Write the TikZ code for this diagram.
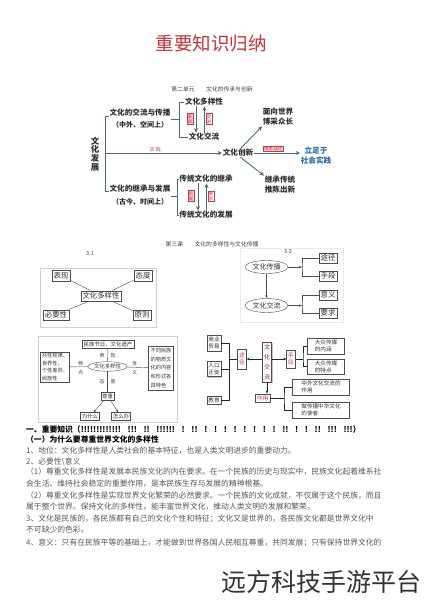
\documentclass[tikz,border=0pt]{standalone}
\usepackage{fontspec}
\usepackage{tikz}
\usetikzlibrary{positioning,arrows.meta,shapes.geometric,shadows}
\setmainfont{Noto Sans CJK SC}
\newcommand{\sizeAt}[2]{\fontsize{#1}{#2}\selectfont}
\definecolor{titleRed}{RGB}{200,48,58}
\definecolor{tagRed}{RGB}{196,58,70}
\definecolor{tagPink}{RGB}{247,212,216}
\definecolor{mapBlue}{RGB}{74,104,140}
\definecolor{rootBlue}{RGB}{40,104,172}
\definecolor{frameGray}{RGB}{208,208,208}
\definecolor{inkGray}{RGB}{45,45,45}
\definecolor{bodyGray}{RGB}{88,88,88}
\tikzstyle{sheet} = [x = 1pt, y = -1pt]
\tikzstyle{headText} = [font=\sizeAt{5.8}{7}, text=black!75, inner sep=0]
\tikzstyle{mapText} = [font=\bfseries\sizeAt{7.6}{10}, text=inkGray, inner sep=.5pt, align=center]
\tikzstyle{mapLine} = [color=mapBlue, line width=.9pt]
\tikzstyle{mapArrow} = [mapLine, -{Stealth[length=4.5pt, width=4pt]}]
\tikzstyle{braceLine} = [color=mapBlue, line width=.7pt]
\tikzstyle{tagFilled} = [draw=tagRed, fill=tagPink, text=tagRed, font=\sizeAt{4.6}{5.2}, inner sep=.7pt, align=center, line width=.3pt]
\tikzstyle{tagOpen} = [tagFilled, fill=white]
\tikzstyle{thinBox} = [draw=black!70, line width=.4pt, fill=white, font=\sizeAt{7.4}{8}, inner sep=1.8pt, text=black!80]
\tikzstyle{shadeBox} = [thinBox, drop shadow={shadow xshift=.9pt, shadow yshift=-.9pt, fill=black!45}]
\tikzstyle{smallBox} = [shadeBox, font=\sizeAt{5.6}{7}, inner sep=1.6pt, align=center]
\tikzstyle{ovalBox} = [ellipse, draw=black!70, line width=.4pt, fill=white, inner sep=0, text=black!80]
\tikzstyle{thinLine} = [draw=black!70, line width=.4pt]
\tikzstyle{thinArrow} = [thinLine, -{Stealth[length=3pt, width=2.4pt]}]
\tikzstyle{heavyLine} = [draw=black!85, line width=1pt]
\tikzstyle{heavyArrow} = [heavyLine, -{Stealth[length=3.2pt, width=2.8pt]}]
\tikzstyle{faintFrame} = [draw=frameGray, line width=.5pt]
\tikzstyle{tinyText} = [font=\sizeAt{5}{8.5}, text=black!75, inner sep=0, align=center]
\tikzstyle{bodyText} = [anchor=west, font=\sizeAt{7.8}{9}, text=bodyGray, inner sep=0]
\newcommand{\bodyLine}[3]{\node [bodyText] (#1) at (26,#2) {#3};}
\newcommand{\relationPair}[6]{
  \node [tagFilled] (#1) at (#2) {#3};
  \node [tagOpen] (#4) at (#5) {#6};
}

\begin{document}
\begin{tikzpicture}[sheet]
  \fill [white] (0,0) rectangle (424,600);
  \useasboundingbox (0,0) rectangle (424,600);

  \node [font=\sizeAt{18.5}{20}, text=titleRed] (title) at (211,43) {重要知识归纳};

  \node [headText] (unitHead) at (212,89) {第二单元　　文化的传承与创新};
  \node [mapText, font=\bfseries\sizeAt{8.4}{8.8}] (develop) at (95,154) {文\\化\\发\\展};
  \node [mapText] (exchange) at (140,113) {文化的交流与传播};
  \node [mapText, font=\bfseries\sizeAt{7}{8}] (exchangeSub) at (140,124.5) {（中外、空间上）};
  \node [mapText] (inherit) at (140,189) {文化的继承与发展};
  \node [mapText, font=\bfseries\sizeAt{7}{8}] (inheritSub) at (140,201.5) {（古今、时间上）};
  \coordinate (spineTop) at (105,116);
  \coordinate (spineMid) at (105,153);
  \coordinate (spineBot) at (105,191);
  \draw [mapLine] (spineTop -| exchange.west) -- (spineTop) -- (spineBot) -- (spineBot -| inherit.west);
  \node [mapText] (innovation) at (238,153) {文化创新};
  \draw [mapArrow] (spineMid) -- node [pos=.43, above=.5pt, font=\sizeAt{5}{6}, text=tagRed, inner sep=.5pt] (practiceTag) {实\,践} (innovation.west);

  \node [mapText] (diversity) at (204,102) {文化多样性};
  \node [mapText] (exchangeFlow) at (204,137) {文化交流};
  \coordinate (braceTop) at (179,119);
  \draw [braceLine] (diversity.west) -- (diversity.west -| braceTop) -- (exchangeFlow.west -| braceTop) -- (exchangeFlow.west);
  \draw [braceLine] (exchange.east |- braceTop) -- (braceTop);
  \draw [mapArrow, line width=.7pt] ([xshift=-8pt]diversity.south) -- ([xshift=-8pt]exchangeFlow.north);
  \draw [mapArrow, line width=.7pt] ([xshift=.5pt]exchangeFlow.north) -- ([xshift=.5pt]diversity.south);
  \relationPair{baseTag}{190,119}{基\\础}{pushTag}{209,119}{促\\进}

  \node [mapText] (tradInherit) at (206,179) {传统文化的继承};
  \node [mapText] (tradDevelop) at (206,215) {传统文化的发展};
  \coordinate (braceBot) at (177,196);
  \draw [braceLine] (tradInherit.west) -- (tradInherit.west -| braceBot) -- (tradDevelop.west -| braceBot) -- (tradDevelop.west);
  \draw [braceLine] (inherit.east |- braceBot) -- (braceBot);
  \draw [mapArrow, line width=.7pt] ([xshift=-8pt]tradInherit.south) -- ([xshift=-8pt]tradDevelop.north);
  \draw [mapArrow, line width=.7pt] ([xshift=.5pt]tradDevelop.north) -- ([xshift=.5pt]tradInherit.south);
  \relationPair{premiseTag}{191,196}{前\\提}{needTag}{211,196}{要\\求}

  \node [mapText] (world) at (278,117) {面向世界\\博采众长};
  \node [mapText, text=rootBlue] (practice) at (316,155.5) {立足于\\社会实践};
  \node [mapText] (renew) at (280,185) {继承传统\\推陈出新};
  \draw [mapArrow] (innovation.60) -- (world.south west);
  \draw [mapArrow] (innovation.east) -- node [pos=.42, above=1.5pt, tagFilled] (rootTag) {根本途径} (innovation.east -| practice.west);
  \draw [mapArrow] (innovation.-60) -- (renew.north west);

  \node [headText] (lessonHead) at (212,244) {第三课　　文化的多样性与文化传播};
  \node [tinyText, font=\sizeAt{5.5}{6}] (labelOne) at (90,254) {3.1};
  \node [tinyText, font=\sizeAt{5.5}{6}] (labelTwo) at (288,252) {3.2};
  \draw [faintFrame] (40,268) rectangle (156,327);
  \node [thinBox] (divCore) at (101,296) {文化多样性};
  \node [thinBox] (showBox) at (61,275.5) {表现};
  \node [thinBox] (attBox) at (143,275.5) {态度};
  \node [thinBox] (needBox) at (56,315) {必要性};
  \node [thinBox] (ruleBox) at (142,315) {原则};
  \foreach \outer in {showBox,attBox,needBox,ruleBox}
    \draw [thinLine] (divCore) -- (\outer);

  \draw [faintFrame, draw=frameGray!45] (240,248) rectangle (343,322);
  \node [ovalBox, font=\sizeAt{7}{8}, minimum width=43pt, minimum height=13pt] (spread) at (266.5,267) {文化传播};
  \node [ovalBox, font=\sizeAt{7}{8}, minimum width=43pt, minimum height=14pt] (flow) at (266.5,305.5) {文化交流};
  \draw [thinArrow] (spread) -- (flow);
  \node [shadeBox] (routeBox) at (328,258) {途径};
  \node [shadeBox] (meansBox) at (328,276) {手段};
  \node [shadeBox] (senseBox) at (328,295) {意义};
  \node [shadeBox] (demandBox) at (328,313) {要求};
  \coordinate (forkSpread) at (302,267);
  \coordinate (forkFlow) at (302,305.5);
  \draw [thinArrow] (spread.east) -- (forkSpread);
  \draw [thinLine] (routeBox.west) -| (forkSpread) |- (meansBox.west);
  \draw [thinArrow] (flow.east) -- (forkFlow);
  \draw [thinLine] (senseBox.west) -| (forkFlow) |- (demandBox.west);

  \draw [faintFrame] (38,336) rectangle (177,422);
  \node [thinBox, font=\sizeAt{5.4}{7}, inner sep=1.4pt] (heritage) at (108,344) {民族节日、文化遗产};
  \node [ovalBox, font=\sizeAt{5.4}{7}, minimum width=39pt, minimum height=9.5pt] (divOval) at (107.5,366.5) {文化多样性};
  \node [thinBox, font=\sizeAt{5.2}{7.6}, inner sep=1.4pt, align=left] (traitBox) at (55,367) {共性规律、\\世界性、\\个性差异、\\民族性};
  \node [thinBox, font=\sizeAt{5.2}{8.8}, inner sep=2pt, align=left] (meaningBox) at (161,368) {不同民族\\的物质文\\化的内容\\和形式各\\具特色};
  \node [tinyText] (showLabel) at (107.5,355.5) {表\hspace{6pt}现};
  \node [tinyText] (traitLabel) at (80.5,368) {特\\点};
  \node [tinyText] (meanLabel) at (134.5,368) {含\\义};
  \node [tinyText] (attLabel) at (107.5,381.5) {态\hspace{6pt}度};
  \node [thinBox, font=\sizeAt{5.4}{7}, inner sep=1.4pt] (respect) at (107.5,396) {尊重};
  \node [thinBox, font=\sizeAt{5.4}{7}, inner sep=1.4pt] (whyBox) at (90,416.5) {为什么};
  \node [thinBox, font=\sizeAt{5.4}{7}, inner sep=1.4pt] (howBox) at (121,416.5) {怎么办};
  \draw [thinLine] (heritage) -- (divOval);
  \draw [thinLine] (divOval) -- (traitBox);
  \draw [thinLine] (divOval) -- (meaningBox);
  \draw [thinLine] (divOval) -- (respect);
  \draw [thinArrow] (respect) -- (whyBox);
  \draw [thinArrow] (respect) -- (howBox);

  \node [smallBox] (trade) at (214,343) {商业\\贸易};
  \node [smallBox] (migrate) at (214,369) {人口\\迁徙};
  \node [smallBox] (school) at (214,400) {教育};
  \node [smallBox, text=tagRed, minimum height=20pt] (routeTag) at (242,359) {途\\径};
  \node [smallBox, font=\sizeAt{6}{10}, text=tagRed!75!black, minimum height=40pt] (exchBox) at (267,362) {文\\化\\交\\流};
  \node [smallBox, text=tagRed, minimum height=18pt] (meansTag) at (291,359) {手\\段};
  \node [smallBox, text=tagRed] (roleTag) at (262.5,398) {作用};
  \node [smallBox, align=left, minimum width=37pt] (mediaCore) at (326,346) {大众传媒\\的内涵};
  \node [smallBox, align=left, minimum width=37pt] (mediaTrait) at (326,366.5) {大众传媒\\的特点};
  \node [smallBox, align=left, minimum width=57pt] (roleCore) at (321,387) {中外文化交流的\\作用};
  \node [smallBox, align=left, minimum width=57pt] (roleEnvoy) at (321,410) {做传播中华文化\\的使者};
  \coordinate (gatherX) at (229,359);
  \coordinate (mediaX) at (303,359);
  \coordinate (roleX) at (284,398);
  \draw [heavyLine] (trade.east) -| (gatherX);
  \draw [heavyLine] (school.east) -| (gatherX);
  \draw [heavyLine] (migrate.east) -- (migrate.east -| gatherX);
  \draw [heavyLine] (gatherX) -- (routeTag.west);
  \draw [heavyArrow] (exchBox.west |- routeTag.east) -- (routeTag.east);
  \draw [heavyArrow] (exchBox.east |- meansTag.west) -- (meansTag.west);
  \draw [heavyLine] (mediaCore.west) -| (mediaX) |- (mediaTrait.west);
  \draw [heavyLine] (meansTag.east) -- (mediaX);
  \draw [heavyArrow] (exchBox.south) -- (exchBox.south |- roleTag.north);
  \draw [heavyLine] (roleCore.west) -| (roleX) |- (roleEnvoy.west);
  \draw [heavyLine] (roleTag.east) -- (roleX);

  \node [bodyText, text=black, font=\bfseries\sizeAt{7.8}{9}] (lineHead) at (26,430) {一、重要知识（\makebox[272pt][s]{!!!!!!!!!!!!! !!! !! !!!!!! ! !! ! ! ! ! ! ! ! ! !! ! ! !! !!! !!!}）};
  \node [bodyText, text=black, font=\bfseries\sizeAt{7.8}{9}] (lineQuestion) at (26,440) {（一）为什么要尊重世界文化的多样性};
  \bodyLine{lineStatus}{451}{1、地位：文化多样性是人类社会的基本特征，也是人类文明进步的重要动力。}
  \bodyLine{lineNeed}{461.5}{2、必要性\textbackslash 意义}
  \bodyLine{lineOneA}{472}{（1）尊重文化多样性是发展本民族文化的内在要求。在一个民族的历史与现实中，民族文化起着维系社}
  \bodyLine{lineOneB}{484}{会生活、维持社会稳定的重要作用，是本民族生存与发展的精神根基。}
  \bodyLine{lineTwoA}{496}{（2）尊重文化多样性是实现世界文化繁荣的必然要求。一个民族的文化成就，不仅属于这个民族，而且}
  \bodyLine{lineTwoB}{507}{属于整个世界。保持文化的多样性，能丰富世界文化，推动人类文明的发展和繁荣。}
  \bodyLine{lineThreeA}{519}{3、文化是民族的，各民族都有自己的文化个性和特征；文化又是世界的，各民族文化都是世界文化中}
  \bodyLine{lineThreeB}{530}{不可缺少的色彩。}
  \bodyLine{lineFour}{543}{4、意义：只有在民族平等的基础上，才能做到世界各国人民相互尊重，共同发展；只有保持世界文化的}

  \node [font=\sizeAt{25}{28}, text=black!80] (mark) at (321,582) {远方科技手游平台};
\end{tikzpicture}
\end{document}
